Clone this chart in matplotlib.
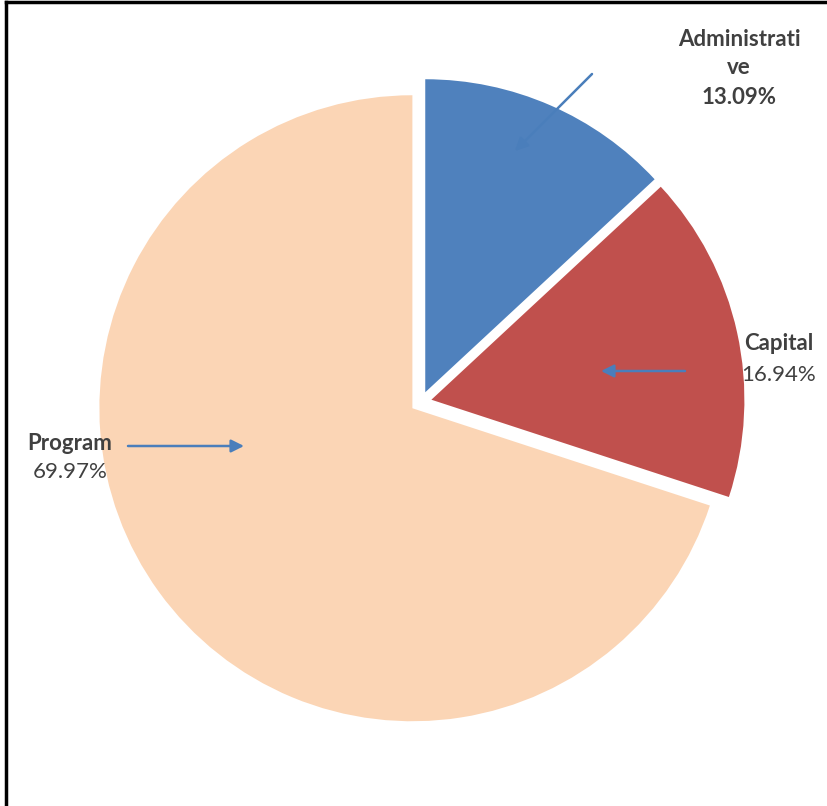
import matplotlib.pyplot as plt
from matplotlib.lines import Line2D

categories = ["Administrative", "Capital", "Program"]
shares = [13.09, 16.94, 69.97]
colors = ["#4F81BD", "#C0504D", "#FBD5B5"]

W, H = 827, 806
plt.rcParams["font.family"] = ["Lato", "DejaVu Sans"]


def fp(x, y):
    # pixel position (from top-left) -> figure fraction
    return x / W, 1 - y / H


fig = plt.figure(figsize=(W / 100, H / 100), dpi=100)
ax = fig.add_axes([0, 0, 1, 1])
ax.pie(shares, colors=colors, startangle=90, counterclock=False,
       explode=[0.034] * 3, wedgeprops=dict(linewidth=0))
# 1 unit = 313 px, pie centred at (421, 402)
ax.set_xlim(-421 / 313, (W - 421) / 313)
ax.set_ylim(-(H - 402) / 313, 402 / 313)
ax.set_aspect("auto")
ax.axis("off")

# frame (left and top edges only visible)
fig.add_artist(Line2D([6 / W, 6 / W], [0, 1 - 2 / H], color="black", lw=2.5, transform=fig.transFigure))
fig.add_artist(Line2D([6 / W, 1], [1 - 2 / H, 1 - 2 / H], color="black", lw=2.5, transform=fig.transFigure))

txt = "#404040"
fs = 16
arrow_kw = dict(arrowstyle="-|>", color="#4A7EBB", lw=1.8, mutation_scale=19, shrinkA=0, shrinkB=0)

# Administrative
fig.text(*fp(739, 40), "Administrati", ha="center", va="center", fontsize=fs, weight="bold", color=txt)
fig.text(*fp(739, 68), "ve", ha="center", va="center", fontsize=fs, weight="bold", color=txt)
fig.text(*fp(739, 97), f"{shares[0]:.2f}%", ha="center", va="center", fontsize=fs, weight="bold", color=txt)
ax.annotate("", xy=fp(515, 151), xytext=fp(592, 74), xycoords="figure fraction",
            textcoords="figure fraction", arrowprops=arrow_kw)

# Capital
fig.text(*fp(779, 344), categories[1], ha="center", va="center", fontsize=fs, weight="bold", color=txt)
fig.text(*fp(779, 375), f"{shares[1]:.2f}%", ha="center", va="center", fontsize=fs, color=txt)
ax.annotate("", xy=fp(601, 371), xytext=fp(685, 371), xycoords="figure fraction",
            textcoords="figure fraction", arrowprops=arrow_kw)

# Program
fig.text(*fp(70, 443), categories[2], ha="center", va="center", fontsize=fs, weight="bold", color=txt)
fig.text(*fp(70, 472), f"{shares[2]:.2f}%", ha="center", va="center", fontsize=fs, color=txt)
ax.annotate("", xy=fp(244, 446), xytext=fp(128, 446), xycoords="figure fraction",
            textcoords="figure fraction", arrowprops=arrow_kw)

fig.savefig("out.png", dpi=100, facecolor="white")
